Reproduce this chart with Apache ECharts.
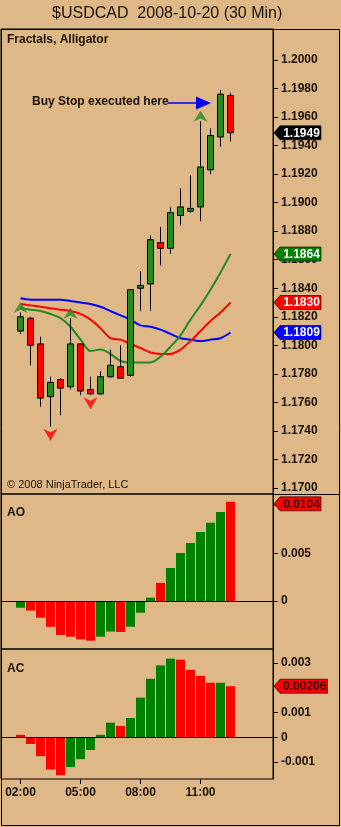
<!DOCTYPE html>
<html>
<head>
<meta charset="utf-8">
<title>$USDCAD 2008-10-20 (30 Min)</title>
<script src="https://cdn.jsdelivr.net/npm/echarts@6/dist/echarts.min.js"></script>
<style>
html, body { margin: 0; padding: 0; background: #DEB887; }
#chart { width: 341px; height: 827px; }
</style>
</head>
<body>
<div id="chart"></div>
<script>
// 30 min bars, 2008-10-20
const times = ['02:00', '02:30', '03:00', '03:30', '04:00', '04:30', '05:00', '05:30', '06:00', '06:30', '07:00',
  '07:30', '08:00', '08:30', '09:00', '09:30', '10:00', '10:30', '11:00', '11:30', '12:00', '12:30']
const opens  = [1.1810, 1.1819, 1.1801, 1.1764, 1.1776, 1.1771, 1.1801, 1.1769, 1.1766, 1.1778, 1.1785,
  1.1779, 1.1840, 1.1843, 1.1872, 1.1868, 1.1891, 1.1894, 1.1897, 1.1923, 1.1946, 1.1975]
const closes = [1.1820, 1.1800, 1.1763, 1.1774, 1.1770, 1.1801, 1.1768, 1.1766, 1.1778, 1.1786, 1.1777,
  1.1839, 1.1842, 1.1874, 1.1868, 1.1893, 1.1897, 1.1896, 1.1925, 1.1947, 1.1976, 1.1949]
const lows   = [1.1808, 1.1786, 1.1757, 1.1743, 1.1751, 1.1769, 1.1765, 1.1765, 1.1765, 1.1777, 1.1777,
  1.1778, 1.1824, 1.1824, 1.1856, 1.1864, 1.1884, 1.1893, 1.1887, 1.1920, 1.1939, 1.1943]
const highs  = [1.1823, 1.1820, 1.1806, 1.1778, 1.1777, 1.1819, 1.1801, 1.1778, 1.1782, 1.1797, 1.1800,
  1.1839, 1.1852, 1.1877, 1.1883, 1.1897, 1.1910, 1.1919, 1.1957, 1.1952, 1.1979, 1.1977]

// alligator
const jaw   = [1.1833, 1.1832, 1.1832, 1.1832, 1.1832, 1.1831, 1.1830, 1.1829, 1.1827, 1.1824, 1.1821,
  1.1818, 1.1814, 1.1813, 1.1811, 1.1808, 1.1805, 1.1804, 1.1803, 1.1804, 1.1805, 1.1809]
const teeth = [1.1829, 1.1828, 1.1827, 1.1826, 1.1825, 1.1824, 1.1822, 1.1818, 1.1812, 1.1805, 1.1804,
  1.1801, 1.1798, 1.1795, 1.1794, 1.1794, 1.1797, 1.1803, 1.1810, 1.1817, 1.1823, 1.1830]
const lips  = [1.1826, 1.1825, 1.1824, 1.1822, 1.1819, 1.1813, 1.1804, 1.1796, 1.1797, 1.1794, 1.1789,
  1.1788, 1.1788, 1.1788, 1.1792, 1.1799, 1.1807, 1.1818, 1.1828, 1.1839, 1.1851, 1.1864]

// fractals (bar indexes)
const fractalUp = [0, 5, 18]
const fractalDown = [3, 7]

// awesome / accelerator oscillators, 1 = green bar
const aoValues = [-0.0007, -0.0010, -0.00175, -0.0027, -0.00356, -0.00374, -0.00402, -0.00416, -0.00374, -0.0032, -0.00325,
  -0.0027, -0.00123, 0.00035, 0.0019, 0.00346, 0.00503, 0.00608, 0.00723, 0.00821, 0.00933, 0.0104]
const aoRising = [1, 0, 0, 0, 0, 0, 0, 0, 1, 1, 0, 1, 1, 1, 0, 1, 1, 1, 1, 1, 1, 0]
const acValues = [0.0001, -0.00027, -0.00076, -0.0013, -0.00153, -0.0012, -0.00088, -0.00051, 0.0001, 0.00059, 0.00046,
  0.00078, 0.0016, 0.00236, 0.0029, 0.00317, 0.00313, 0.00272, 0.00248, 0.0022, 0.0022, 0.00206]
const acRising = [0, 0, 0, 0, 0, 1, 1, 1, 1, 1, 0, 1, 1, 1, 1, 1, 0, 0, 0, 0, 1, 0]

// tick labels
const priceTicks = [1.170, 1.172, 1.174, 1.176, 1.178, 1.180, 1.182, 1.184, 1.186, 1.188, 1.190, 1.192, 1.194, 1.196, 1.198, 1.200]
const aoTicks = [0, 0.005, 0.01]
const acTicks = [-0.001, 0, 0.001, 0.003]
const timeTicks = ['02:00', '05:00', '08:00', '11:00']

const FONT = 'Liberation Sans'
const INK = '#1a1208'
const GREEN = '#228B22'
const BAR_GREEN = '#008000'
const RED = '#FF0000'

let dom = document.getElementById('chart')
let myChart = echarts.init(dom, null, {renderer: 'canvas'})

let grids = [
  {left: 1, top: 29, width: 272, height: 465},
  {left: 1, top: 494, width: 272, height: 155},
  {left: 1, top: 649, width: 272, height: 130}
].map(g => Object.assign(g, {show: true, borderColor: '#000', borderWidth: 1, backgroundColor: 'transparent'}))

let tickIdx = timeTicks.map(t => times.indexOf(t))

let xAxes = [0, 1, 2].map(g => ({
  type: 'value',
  gridIndex: g,
  min: -1.95,
  max: 25.25,
  axisLine: {show: false, onZero: false},
  axisTick: {show: g === 2, customValues: tickIdx, length: 5, lineStyle: {color: '#000'}},
  axisLabel: {
    show: g === 2,
    customValues: tickIdx,
    formatter: v => times[v] || '',
    margin: 8,
    color: INK, fontFamily: FONT, fontWeight: 'bold', fontSize: 12
  },
  splitLine: {show: false}
}))

function yAxis (g, min, max, ticks, fmt) {
  return {
    type: 'value',
    gridIndex: g,
    position: 'right',
    min: min,
    max: max,
    axisLine: {show: true, onZero: false, lineStyle: {color: '#000'}},
    axisTick: {show: true, customValues: ticks, length: 5, lineStyle: {color: '#000'}},
    axisLabel: {
      customValues: ticks,
      formatter: fmt,
      margin: 8,
      color: INK, fontFamily: FONT, fontWeight: 'bold', fontSize: 12
    },
    splitLine: {show: false}
  }
}

let yAxes = [
  yAxis(0, 1.16958, 1.20217, priceTicks, v => v.toFixed(4)),
  yAxis(1, -0.00503, 0.01122, aoTicks, v => Math.abs(v) < 1e-9 ? '0' : String(+v.toFixed(4))),
  yAxis(2, -0.00168, 0.00356, acTicks, v => Math.abs(v) < 1e-9 ? '0' : String(+v.toFixed(4)))
]

function alligatorLine (values, color) {
  return {
    type: 'line',
    xAxisIndex: 0,
    yAxisIndex: 0,
    data: values.map((v, i) => [i, v]),
    showSymbol: false,
    smooth: 0.3,
    z: 2,
    lineStyle: {color: color, width: 2},
    silent: true
  }
}

function oscBars (g, values, rising) {
  return {
    type: 'bar',
    xAxisIndex: g,
    yAxisIndex: g,
    barWidth: 9,
    data: values.map((v, i) => ({
      value: [i, v],
      itemStyle: {color: rising[i] ? BAR_GREEN : RED}
    })),
    markLine: {
      silent: true,
      symbol: 'none',
      label: {show: false},
      lineStyle: {color: '#000', width: 1, type: 'solid'},
      data: [{yAxis: 0}]
    }
  }
}

let option = {
  animation: false,
  backgroundColor: '#DEB887',
  grid: grids,
  xAxis: xAxes,
  yAxis: yAxes,
  series: [
    alligatorLine(jaw, '#0000FF'),
    alligatorLine(teeth, RED),
    alligatorLine(lips, GREEN),
    {
      type: 'candlestick',
      xAxisIndex: 0,
      yAxisIndex: 0,
      z: 3,
      barWidth: 7,
      encode: {x: 0, y: [1, 2, 3, 4]},
      data: times.map((t, i) => [i, opens[i], closes[i], lows[i], highs[i]]),
      itemStyle: {
        color: GREEN,
        color0: RED,
        borderColor: '#000',
        borderColor0: '#000',
        borderWidth: 1
      }
    },
    {
      type: 'scatter',
      xAxisIndex: 0,
      yAxisIndex: 0,
      z: 4,
      symbol: 'path://M5,0 L10,10 L5,7 L0,10 Z',
      symbolSize: [14, 11],
      symbolOffset: [0, -5],
      itemStyle: {color: GREEN},
      data: fractalUp.map(i => [i, highs[i]])
    },
    {
      type: 'scatter',
      xAxisIndex: 0,
      yAxisIndex: 0,
      z: 4,
      symbol: 'path://M0,0 L5,3 L10,0 L5,10 Z',
      symbolSize: [14, 12],
      symbolOffset: [0, 8],
      itemStyle: {color: RED},
      data: fractalDown.map(i => [i, lows[i]])
    },
    oscBars(1, aoValues, aoRising),
    oscBars(2, acValues, acRising)
  ]
}

myChart.setOption(option)

function label (x, y, text, font, color) {
  return {
    type: 'text',
    z: 10,
    x: x,
    y: y,
    style: {text: text, font: font, fill: color || INK, textAlign: 'left', textVerticalAlign: 'middle', align: 'left', verticalAlign: 'middle'}
  }
}

// value tag on the price axis
function tag (y, text, bg, fg) {
  let right = 282 + text.length * 6.5
  return [{
    type: 'polygon',
    z: 20,
    shape: {points: [[274, y], [280, y - 7], [right, y - 7], [right, y + 7], [280, y + 7]]},
    style: {fill: bg, stroke: '#000', lineWidth: 0.6}
  }, {
    type: 'text',
    z: 21,
    x: (282 + right) / 2,
    y: y + 0.5,
    style: {text: text, font: 'bold 12px ' + FONT, fill: fg, textAlign: 'center', textVerticalAlign: 'middle', align: 'center', verticalAlign: 'middle'}
  }]
}

let last = times.length - 1
let py = v => myChart.convertToPixel({yAxisIndex: 0}, v)
let tags = [].concat(
  tag(py(closes[last]), closes[last].toFixed(4), '#000', '#fff'),
  tag(py(lips[last]), lips[last].toFixed(4), BAR_GREEN, '#fff'),
  tag(py(teeth[last]), teeth[last].toFixed(4), RED, '#fff'),
  tag(py(jaw[last]), jaw[last].toFixed(4), '#0000FF', '#fff'),
  tag(myChart.convertToPixel({yAxisIndex: 1}, aoValues[last]) + 2, aoValues[last].toFixed(4), RED, '#3a0000'),
  tag(myChart.convertToPixel({yAxisIndex: 2}, acValues[last]), acValues[last].toFixed(5), RED, '#3a0000')
)

let graphics = [
  {type: 'rect', z: 5, shape: {x: 1.5, y: 29.5, width: 338, height: 796}, style: {fill: 'none', stroke: '#000', lineWidth: 1}},
  {type: 'line', z: 5, shape: {x1: 273, y1: 494.5, x2: 340, y2: 494.5}, style: {stroke: '#000', lineWidth: 1}},
  label(52, 14, '$USDCAD  2008-10-20 (30 Min)', '16px ' + FONT),
  label(7, 40, 'Fractals, Alligator', 'bold 12px ' + FONT),
  label(7, 485, '\u00a9 2008 NinjaTrader, LLC', '11px ' + FONT),
  label(7, 513, 'AO', 'bold 12px ' + FONT),
  label(7, 669, 'AC', 'bold 12px ' + FONT),
  label(32, 102, 'Buy Stop executed here', 'bold 12px ' + FONT),
  // arrow to the executed buy stop
  {type: 'line', z: 10, shape: {x1: 168, y1: 103, x2: 199, y2: 103}, style: {stroke: '#0000FF', lineWidth: 1.5}},
  {type: 'polygon', z: 10, shape: {points: [[196, 96.5], [211, 103], [196, 109.5]]}, style: {fill: '#0000FF'}}
].concat(tags)

myChart.setOption({graphic: graphics})
</script>
</body>
</html>
